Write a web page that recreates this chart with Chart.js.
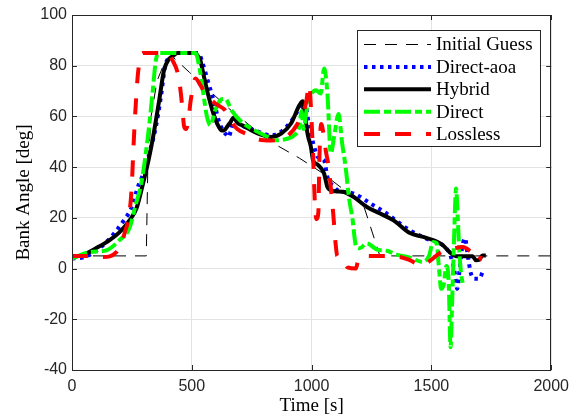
<!DOCTYPE html>
<html>
<head>
<meta charset="utf-8">
<script src="https://cdn.jsdelivr.net/npm/chart.js@4.4.1/dist/chart.umd.min.js"></script>
<style>
  html, body { margin: 0; padding: 0; background: #fff; }
  #wrap { width: 576px; height: 417px; }
</style>
</head>
<body>
<div id="wrap"><canvas id="bankChart" width="576" height="417"></canvas></div>
<script>
// series (time in s, bank angle in deg)
var guessT = [0, 310, 316, 330, 355, 385, 415, 490, 650, 820, 950, 1040, 1150, 1220, 1285, 2000];
var guessY = [5, 5, 38, 60, 74, 81, 84, 77.4, 63.5, 50.5, 43.5, 38, 30, 24, 5, 5];

var aoaT = [0, 50, 100, 157, 212, 253, 274, 300, 330, 350, 371, 391, 419, 440, 520, 529, 550, 570, 591, 612, 630, 646, 653, 665, 680, 700, 735, 777, 832, 873, 914, 949, 965, 976, 990, 1000, 1011, 1025, 1052, 1066, 1094, 1107, 1176, 1245, 1314, 1342, 1410, 1479, 1548, 1580, 1598, 1608, 1618, 1628, 1640, 1652, 1665, 1680, 1700, 1715];
var aoaY = [4, 4.5, 7, 11.8, 18.4, 25, 32, 38, 48, 55.9, 67.7, 80.9, 83.7, 85, 85, 84.8, 79.5, 73, 66.4, 58.5, 54.5, 52.6, 51.9, 55, 60, 57, 55.5, 54, 52.5, 54, 58, 63, 64, 63.5, 56, 51.9, 48, 44, 42.7, 36.1, 32.2, 31, 29.6, 25.7, 21.7, 19.7, 15.1, 11.8, 9.2, 5, -2, -8, 0, 8, 12, 5, -2, -4, -4, -1];

var hybridT = [0, 50, 100, 157, 200, 240, 270, 295, 320, 336, 364, 384, 405, 419, 440, 510, 520, 536, 550, 567, 584, 600, 612, 625, 635, 648, 660, 674, 690, 710, 735, 777, 832, 873, 914, 949, 963, 972, 983, 997, 1006, 1025, 1040, 1052, 1066, 1080, 1100, 1135, 1176, 1231, 1286, 1342, 1410, 1465, 1507, 1548, 1576, 1603, 1672, 1686, 1700, 1713, 1727];
var hybridY = [4.5, 5.5, 8, 11.2, 14.5, 19, 24, 33, 43, 50.6, 66.4, 78.2, 82.7, 83.7, 85, 85, 84.5, 82, 76, 69, 63, 58.5, 56, 54.5, 54.5, 56, 57.5, 59.5, 57.5, 56.5, 55.2, 53.2, 51.9, 53.2, 57.2, 64.4, 66, 61, 53.2, 48, 42.7, 41, 39.5, 37.5, 32.2, 30.9, 30.5, 30.2, 28.2, 24.3, 21.7, 19, 14, 12.5, 11.2, 9.2, 6.5, 4.9, 4.9, 3.3, 3.5, 5.2, 5.2];

var directT = [0, 74, 143, 198, 240, 267, 288, 315, 336, 350, 365, 515, 536, 550, 563, 577, 598, 619, 639, 666, 708, 763, 818, 846, 901, 928, 949, 958, 966, 980, 995, 1018, 1038, 1052, 1066, 1080, 1094, 1112, 1128, 1142, 1156, 1170, 1185, 1200, 1231, 1273, 1314, 1355, 1410, 1465, 1490, 1507, 1522, 1530, 1541, 1552, 1562, 1572, 1580, 1586, 1594, 1603, 1610, 1617, 1624, 1631];
var directY = [4, 6.5, 7.2, 11.2, 16, 25.6, 33, 50.6, 69, 82.2, 85, 85, 76.9, 67.7, 60, 56.5, 62.5, 66.4, 67, 62.4, 57.8, 54.5, 51.9, 50.6, 51.3, 52.6, 56, 62, 55, 63, 68, 70.3, 69, 78.9, 69, 45.4, 52, 61, 49, 40, 28, 20, 9, 8, 9.9, 7.5, 7, 5.5, 4.3, 2.6, 5, 10.5, 10, 2, -8, -6, 1, -5, -31, -15, 10, 31.6, 20, 5.9, -2, -6];

var losslessT = [0, 60, 130, 185, 219, 247, 260, 274, 285, 295, 395, 419, 446, 460, 468, 476, 485, 495, 503, 515, 536, 557, 598, 639, 665, 690, 730, 777, 832, 901, 942, 976, 990, 1000, 1008, 1014, 1020, 1028, 1033, 1040, 1050, 1060, 1070, 1080, 1090, 1100, 1107, 1130, 1150, 1185, 1195, 1231, 1286, 1368, 1410, 1459, 1507, 1540, 1576, 1631, 1660, 1679, 1690, 1700, 1707];
var losslessY = [5, 5, 4.6, 6.5, 13.8, 29, 54.5, 75.6, 83, 85, 85, 82.2, 75, 64, 56, 55, 58, 66, 70.5, 75, 72.3, 69, 65.1, 62.4, 58, 55, 53, 51, 50.5, 52.5, 57.2, 65, 72.5, 58, 40, 25, 19.5, 22, 45, 57, 53, 46, 41, 32, 22, 10, 5, 4, 0.5, 0, 3.5, 5, 5, 4.6, 3.3, 1.3, 4, 6.5, 7.5, 8.5, 7, 5.2, 3, 3.3, 5];

var seriesNames = ['Initial Guess', 'Direct-aoa', 'Hybrid', 'Direct', 'Lossless'];
var xTicks = [0, 500, 1000, 1500, 2000];
var yTicks = [-40, -20, 0, 20, 40, 60, 80, 100];

function pts(t, y) {
    var out = [];
    for (var i = 0; i < t.length; i++) out.push({x: t[i], y: y[i]});
    return out;
}

var axisColor = '#262626';
var tickFont = {family: '"Liberation Sans", Arial, sans-serif', size: 16};
var serifFont = '"Liberation Serif", "Times New Roman", serif';

var datasets = [
    {label: seriesNames[0], data: pts(guessT, guessY), borderColor: '#000000', borderWidth: 1,
        borderDash: [12, 9], tension: 0, order: 5},
    {label: seriesNames[1], data: pts(aoaT, aoaY), borderColor: '#0000ff', borderWidth: 4,
        borderDash: [3.5, 4.5], cubicInterpolationMode: 'monotone', order: 4},
    {label: seriesNames[2], data: pts(hybridT, hybridY), borderColor: '#000000', borderWidth: 4,
        borderDash: [], cubicInterpolationMode: 'monotone', order: 3},
    {label: seriesNames[3], data: pts(directT, directY), borderColor: '#00ff00', borderWidth: 4,
        borderDash: [16, 4, 7, 4], cubicInterpolationMode: 'monotone', order: 2},
    {label: seriesNames[4], data: pts(losslessT, losslessY), borderColor: '#ff0000', borderWidth: 4,
        borderDash: [16, 15], cubicInterpolationMode: 'monotone', order: 1}
];
datasets.forEach(function (d) {
    d.pointRadius = 0;
    d.fill = false;
    d.borderCapStyle = 'butt';
    d.borderJoinStyle = 'round';
});

// matlab-like box, inward ticks and boxed legend
var boxPlugin = {
    id: 'boxPlugin',
    afterDatasetsDraw: function (chart) {
        var ctx = chart.ctx;
        var a = chart.chartArea;
        var xs = chart.scales.x, ys = chart.scales.y;
        ctx.save();
        ctx.strokeStyle = axisColor;
        ctx.lineWidth = 1;
        ctx.setLineDash([]);
        ctx.strokeRect(Math.round(a.left) + 0.5, Math.round(a.top) + 0.5,
            Math.round(a.right - a.left) - 1, Math.round(a.bottom - a.top));
        var tl = 5;
        ctx.beginPath();
        xTicks.forEach(function (v) {
            var px = Math.round(xs.getPixelForValue(v)) + 0.5;
            ctx.moveTo(px, a.bottom); ctx.lineTo(px, a.bottom - tl);
            ctx.moveTo(px, a.top); ctx.lineTo(px, a.top + tl);
        });
        yTicks.forEach(function (v) {
            var py = Math.round(ys.getPixelForValue(v)) + 0.5;
            ctx.moveTo(a.left, py); ctx.lineTo(a.left + tl, py);
            ctx.moveTo(a.right, py); ctx.lineTo(a.right - tl, py);
        });
        ctx.stroke();

        // legend
        var lx = 357.5, ly = 30.5, lw = 183, lh = 116;
        ctx.fillStyle = '#ffffff';
        ctx.fillRect(lx, ly, lw, lh);
        ctx.strokeRect(lx, ly, lw, lh);
        ctx.font = '19px ' + serifFont;
        ctx.textBaseline = 'middle';
        ctx.textAlign = 'left';
        chart.data.datasets.forEach(function (d, i) {
            var rowY = 44.5 + i * 22.4;
            ctx.beginPath();
            ctx.strokeStyle = d.borderColor;
            ctx.lineWidth = d.borderWidth;
            ctx.lineCap = 'butt';
            ctx.setLineDash(d.borderDash);
            ctx.moveTo(364, rowY);
            ctx.lineTo(431, rowY);
            ctx.stroke();
            ctx.setLineDash([]);
            ctx.fillStyle = '#000000';
            ctx.fillText(d.label, 436, rowY + 1);
        });
        ctx.restore();
    }
};

var chart = new Chart(document.getElementById('bankChart').getContext('2d'), {
    type: 'line',
    data: {datasets: datasets},
    options: {
        responsive: false,
        animation: false,
        devicePixelRatio: 1,
        layout: {padding: {top: 15, right: 20, left: 0, bottom: 0}},
        plugins: {legend: {display: false}, tooltip: {enabled: false}},
        scales: {
            x: {
                type: 'linear', min: 0, max: 2000,
                afterBuildTicks: function (s) { s.ticks = xTicks.map(function (v) { return {value: v}; }); },
                afterFit: function (s) { s.height = 47; },
                ticks: {font: tickFont, color: axisColor, padding: 7, maxRotation: 0,
                    callback: function (v) { return String(v); }},
                grid: {color: '#e3e3e3', drawTicks: false},
                border: {display: false},
                title: {display: true, text: 'Time [s]', color: '#000',
                    font: {family: serifFont, size: 19}, padding: {top: 0, bottom: 0}}
            },
            y: {
                type: 'linear', min: -40, max: 100,
                afterBuildTicks: function (s) { s.ticks = yTicks.map(function (v) { return {value: v}; }); },
                afterFit: function (s) { s.width = 72; },
                ticks: {font: tickFont, color: axisColor, padding: 5,
                    callback: function (v) { return String(v); }},
                grid: {color: '#e3e3e3', drawTicks: false},
                border: {display: false},
                title: {display: true, text: 'Bank Angle [deg]', color: '#000',
                    font: {family: serifFont, size: 19}, padding: {top: 13, bottom: 0}}
            }
        }
    },
    plugins: [boxPlugin]
});
</script>
</body>
</html>
